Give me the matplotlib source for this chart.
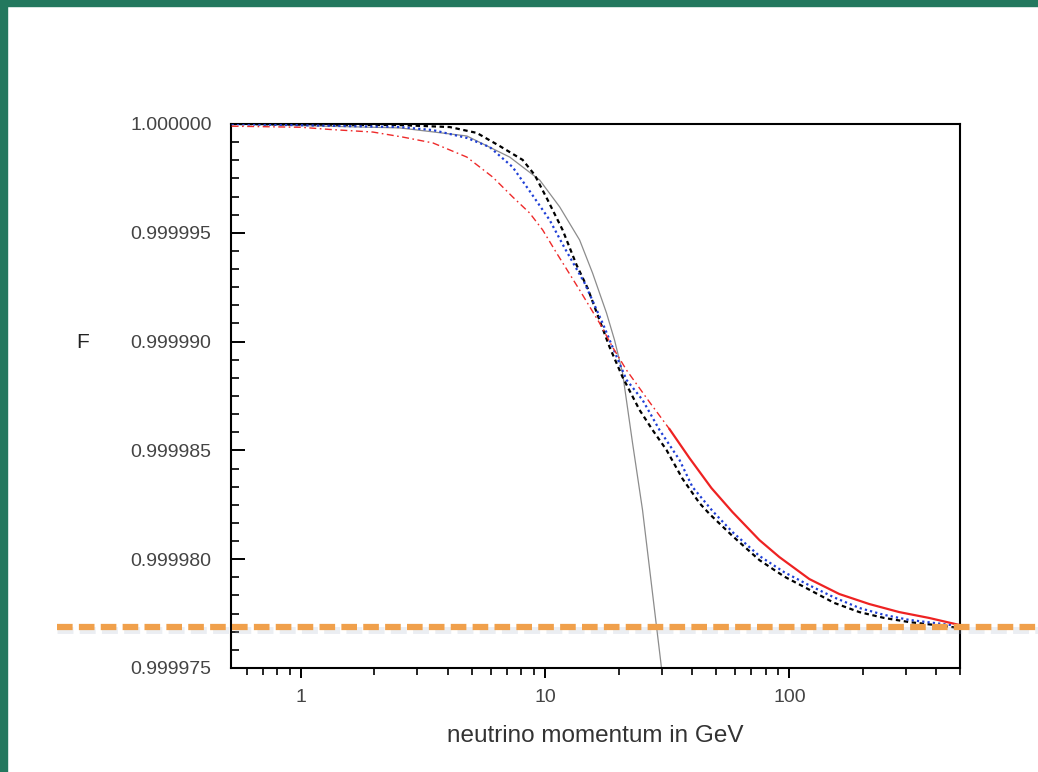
import numpy as np
import matplotlib
matplotlib.use("Agg")
import matplotlib.pyplot as plt
from matplotlib.ticker import AutoMinorLocator, LogLocator, NullFormatter
from matplotlib.patches import Rectangle
from matplotlib.lines import Line2D
from matplotlib.transforms import blended_transform_factory, offset_copy

plt.rcParams['font.family'] = ['Liberation Sans', 'DejaVu Sans']

# ---- data (1 - F expressed in units of 1e-6) ----
red_dd_p = [0.52, 1.0, 1.31, 1.97, 2.61, 3.47, 4.78, 6.10, 7.36, 8.64, 9.77, 11.14,
            13.84, 16.71, 18.88, 21.54, 26.76, 32.30]
red_dd_def = [0.10, 0.15, 0.25, 0.37, 0.60, 0.87, 1.52, 2.44, 3.35, 4.09, 4.87, 5.93,
              7.63, 9.15, 10.25, 11.31, 12.78, 14.02]

red_solid_p = [32.30, 38.99, 47.97, 58.47, 75.41, 91.0, 120.7, 160.2, 212.5, 281.8,
               373.8, 496.0]
red_solid_def = [14.02, 15.35, 16.73, 17.83, 19.12, 19.90, 20.91, 21.60, 22.06, 22.43,
                 22.70, 23.02]

blue_p = [0.52, 2.54, 3.47, 4.78, 5.93, 7.36, 8.64, 10.43, 12.02, 14.51, 17.19, 18.88,
          21.54, 25.05, 29.40, 35.50, 40.11, 48.43, 58.47, 75.41, 95.4, 120.7, 152.8,
          193.4, 244.6, 309.7, 391.7, 496.0]
blue_def = [0.0, 0.14, 0.28, 0.64, 1.06, 1.98, 3.08, 4.41, 5.70, 7.31, 9.15, 10.25,
            11.76, 12.68, 14.06, 15.44, 16.68, 17.78, 18.75, 19.85, 20.60, 21.20, 21.76,
            22.24, 22.56, 22.79, 22.93, 23.07]

black_p = [0.52, 2.54, 4.07, 5.25, 6.51, 8.09, 9.06, 10.24, 11.79, 13.45, 14.92, 18.36,
           20.75, 24.35, 27.53, 31.40, 36.51, 42.85, 47.1, 58.47, 75.41, 95.4, 120.7,
           152.8, 193.4, 244.6, 309.7, 391.7, 496.0]
black_def = [0.0, 0.05, 0.14, 0.41, 1.01, 1.65, 2.34, 3.49, 4.87, 6.48, 7.54, 10.25,
             11.63, 13.14, 14.06, 14.98, 16.30, 17.42, 17.92, 18.93, 20.04, 20.80, 21.40,
             22.01, 22.43, 22.70, 22.89, 23.02, 23.16]

gray_p = [0.52, 2.54, 4.78, 7.16, 9.49, 11.47, 13.84, 15.64, 17.84, 19.24, 20.75,
          22.80, 25.05, 29.96]
gray_def = [0.0, 0.18, 0.55, 1.52, 2.57, 3.81, 5.33, 6.85, 8.69, 9.93, 11.44,
            14.66, 17.74, 25.0]

threshold_F = 0.99997688

y_ticks = [0.999975, 0.999980, 0.999985, 0.999990, 0.999995, 1.000000]
y_ticklabels = ['0.999975', '0.999980', '0.999985', '0.999990', '0.999995', '1.000000']
x_ticks = [1, 10, 100]
x_ticklabels = ['1', '10', '100']


def to_F(d):
    return 1.0 - np.asarray(d) * 1e-6


fig = plt.figure(figsize=(10.38, 7.72), dpi=100)
fig.patch.set_facecolor('white')

# green slide frame (top and left)
green = '#23785E'
fig.add_artist(Rectangle((0, 1 - 6 / 772), 1, 6 / 772, transform=fig.transFigure,
                         color=green, zorder=10))
fig.add_artist(Rectangle((0, 0), 7 / 1038, 1, transform=fig.transFigure,
                         color=green, zorder=10))

ax = fig.add_axes([231 / 1038, 1 - 668 / 772, (960 - 231) / 1038, (668 - 124) / 772])

ax.plot(gray_p, to_F(gray_def), color='#8c8c8c', lw=0.9, zorder=2)
ax.plot(black_p, to_F(black_def), color='black', lw=1.6, linestyle=(0, (2.0, 1.6)), zorder=3)
ax.plot(blue_p, to_F(blue_def), color='#1f3fd6', lw=1.6, linestyle=(0, (1.0, 1.4)), zorder=4)
ax.plot(red_dd_p, to_F(red_dd_def), color='#ee2a2a', lw=1.0,
        linestyle=(0, (5, 2.5, 1.2, 2.5)), zorder=5)
ax.plot(red_solid_p, to_F(red_solid_def), color='#ee2222', lw=1.6, zorder=5)

ax.set_xscale('log')
ax.set_xlim(0.517, 500)
ax.set_ylim(0.999975, 1.000000)

ax.set_yticks(y_ticks, y_ticklabels)
ax.yaxis.set_minor_locator(AutoMinorLocator(6))
ax.set_xticks(x_ticks, x_ticklabels)
ax.xaxis.set_minor_locator(LogLocator(base=10, subs=np.arange(2, 10)))
ax.xaxis.set_minor_formatter(NullFormatter())

ax.tick_params(axis='y', which='major', direction='in', length=10, width=1.4,
               labelsize=14, labelcolor='#444444', pad=14)
ax.tick_params(axis='y', which='minor', direction='in', length=6, width=1.2)
ax.tick_params(axis='x', which='major', direction='out', length=7, width=1.4,
               labelsize=14, labelcolor='#444444', pad=8)
ax.tick_params(axis='x', which='minor', direction='out', length=5, width=1.2)
ax.tick_params(top=False, right=False, which='both')
for s in ax.spines.values():
    s.set_linewidth(1.5)
    s.set_color('black')

ax.set_xlabel('neutrino momentum in GeV', fontsize=17.5, color='#333333', labelpad=14)
fig.text(83 / 1038, 1 - 343 / 772, 'F', fontsize=15, color='#222222',
         ha='center', va='center')

# orange dashed threshold line across the slide
tr = blended_transform_factory(fig.transFigure, ax.transData)
shadow_tr = offset_copy(tr, fig=fig, x=0, y=-2.5, units='dots')
fig.add_artist(Line2D([57 / 1038, 1.0], [threshold_F, threshold_F], transform=shadow_tr,
                      color='#a8b4c8', alpha=0.22, lw=5.0, dashes=(2.3, 0.9),
                      dash_capstyle='butt', zorder=8))
fig.add_artist(Line2D([57 / 1038, 1.0], [threshold_F, threshold_F], transform=tr,
                      color='#F0A04B', lw=4.5, dashes=(2.5, 1.0),
                      dash_capstyle='butt', zorder=9))

fig.savefig('out.png', dpi=100)
